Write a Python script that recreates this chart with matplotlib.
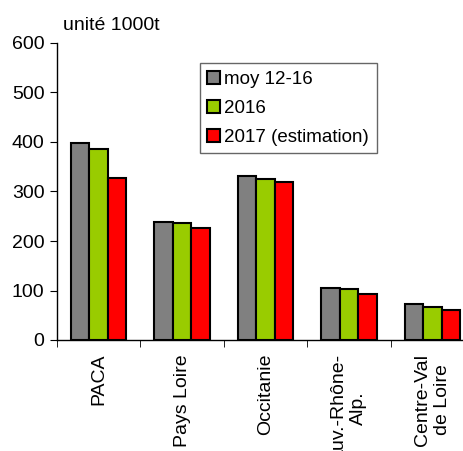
import numpy as np
import matplotlib
matplotlib.use("Agg")
import matplotlib.pyplot as plt

plt.rcParams['font.family'] = ['Liberation Sans', 'DejaVu Sans']

regions = ['PACA', 'Pays Loire', 'Occitanie', 'Auv.-Rhône-\nAlp.', 'Centre-Val\nde Loire']
series_names = ['moy 12-16', '2016', '2017 (estimation)']
moy_12_16 = [398, 238, 331, 105, 72]
v2016 = [386, 236, 326, 104, 67]
v2017 = [328, 226, 319, 93, 61]
colors = ['#808080', '#99cc00', '#ff0000']
y_ticks = [0, 100, 200, 300, 400, 500, 600]

fig = plt.figure(figsize=(4.64, 4.51), dpi=100)
# axes runs past the right edge, as in the original
ax = fig.add_axes([57/464, 1 - 340/451, (474 - 57)/464, (340 - 43)/451])

x = np.arange(len(regions))
w = 0.222
for i, vals in enumerate([moy_12_16, v2016, v2017]):
    ax.bar(x + (i - 1) * w, vals, w, color=colors[i], edgecolor='black',
           linewidth=1.5, label=series_names[i])

ax.set_xlim(-0.5, len(regions) - 0.5)
ax.set_ylim(0, 600)
ax.set_yticks(y_ticks)
ax.set_xticks(x)
ax.set_xticklabels(regions, rotation=90, ha='center', va='top',
                   multialignment='center')
ax.set_xticks(np.arange(len(regions) + 1) - 0.5, minor=True)
ax.tick_params(axis='x', which='major', length=0, pad=10, labelsize=14)
ax.tick_params(axis='x', which='minor', length=5, direction='out')
ax.tick_params(axis='y', length=5, direction='out', labelsize=14, pad=4)

for s in ['top', 'right']:
    ax.spines[s].set_visible(False)
ax.spines['left'].set_linewidth(1.0)
ax.spines['bottom'].set_linewidth(1.0)

fig.text(63/464, 1 - 26/451, 'unité 1000t', fontsize=14, ha='left', va='center')

leg = ax.legend(loc='upper left', bbox_to_anchor=(200/464, 1 - 63/451),
                bbox_transform=fig.transFigure, fontsize=13.5, frameon=True,
                fancybox=False, handlelength=0.65, handleheight=0.75,
                handletextpad=0.25, borderpad=0.4, labelspacing=0.62,
                borderaxespad=0)
leg.get_frame().set_edgecolor('#404040')
leg.get_frame().set_linewidth(1.0)

fig.savefig('out.png', dpi=100)
